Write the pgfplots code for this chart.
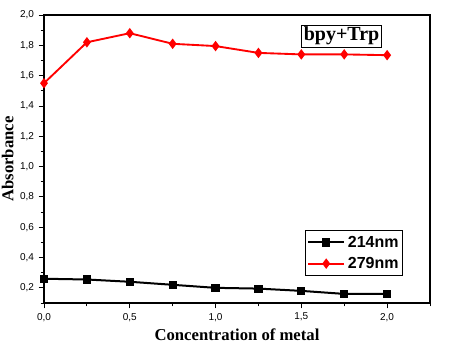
\documentclass[border=0pt]{standalone}
\usepackage{pgfplots}
\pgfplotsset{compat=1.18}
\usepackage{fontspec}
\setmainfont{Liberation Serif}
\newfontfamily\arial{Liberation Sans}
\begin{document}
\begin{tikzpicture}
\useasboundingbox (-33pt,-40.5pt) rectangle (313.5pt,227.25pt);
\begin{axis}[
  at={(0,0)}, anchor=south west,
  scale only axis, width=289.5pt, height=216pt,
  xmin=0, xmax=2.25, ymin=0.1, ymax=2.0,
  xtick={0,0.5,1,1.5,2}, minor xtick={0.25,0.75,1.25,1.75,2.25},
  ytick={0.2,0.4,...,2.01}, minor ytick={0.1,0.3,...,1.95},
  tick align=outside, xtick pos=bottom, ytick pos=left,
  major tick length=4pt, minor tick length=2.5pt,
  tick style={black, line width=0.6pt},
  axis line style={line width=0.8pt},
  /pgf/number format/.cd, use comma, fixed, fixed zerofill, precision=1, assume math mode=true,
  /pgfplots/.cd,
  ticklabel style={font=\arial\fontsize{7.5}{9}\selectfont},
  xlabel={\bfseries Concentration of metal},
  ylabel={\bfseries Absorbance},
  label style={font=\fontsize{12.5}{14}\selectfont},
  xlabel style={yshift=1pt},
  ylabel style={yshift=-2pt},
  legend style={at={(rel axis cs:0.930,0.253)}, anchor=north east, draw=black, line width=0.6pt,
    font=\arial\bfseries\fontsize{12}{14}\selectfont, inner xsep=1pt, inner ysep=2pt, row sep=2pt,
    cells={anchor=west}},
  legend image code/.code={\draw[#1] (0cm,0cm) -- (0.95cm,0cm); \path[#1, only marks] plot coordinates {(0.475cm,0cm)};},
]
\addplot[black, line width=1.5pt, mark=square*, mark size=2.3pt] coordinates {
(0,0.26) (0.25,0.255) (0.5,0.24) (0.75,0.22) (1.0,0.20) (1.25,0.195) (1.5,0.18) (1.75,0.16) (2.0,0.16)};
\addlegendentry{214nm}
\addplot[red, line width=1.4pt, mark=diamond*, mark size=2.8pt] coordinates {
(0,1.55) (0.25,1.82) (0.5,1.88) (0.75,1.81) (1.0,1.795) (1.25,1.75) (1.5,1.74) (1.75,1.74) (2.0,1.735)};
\addlegendentry{279nm}
\node[draw=black, line width=0.6pt, inner sep=1.5pt, font=\bfseries\fontsize{15}{17}\selectfont] at (rel axis cs:0.771,0.927) {bpy+Trp};
\end{axis}
\end{tikzpicture}
\end{document}
